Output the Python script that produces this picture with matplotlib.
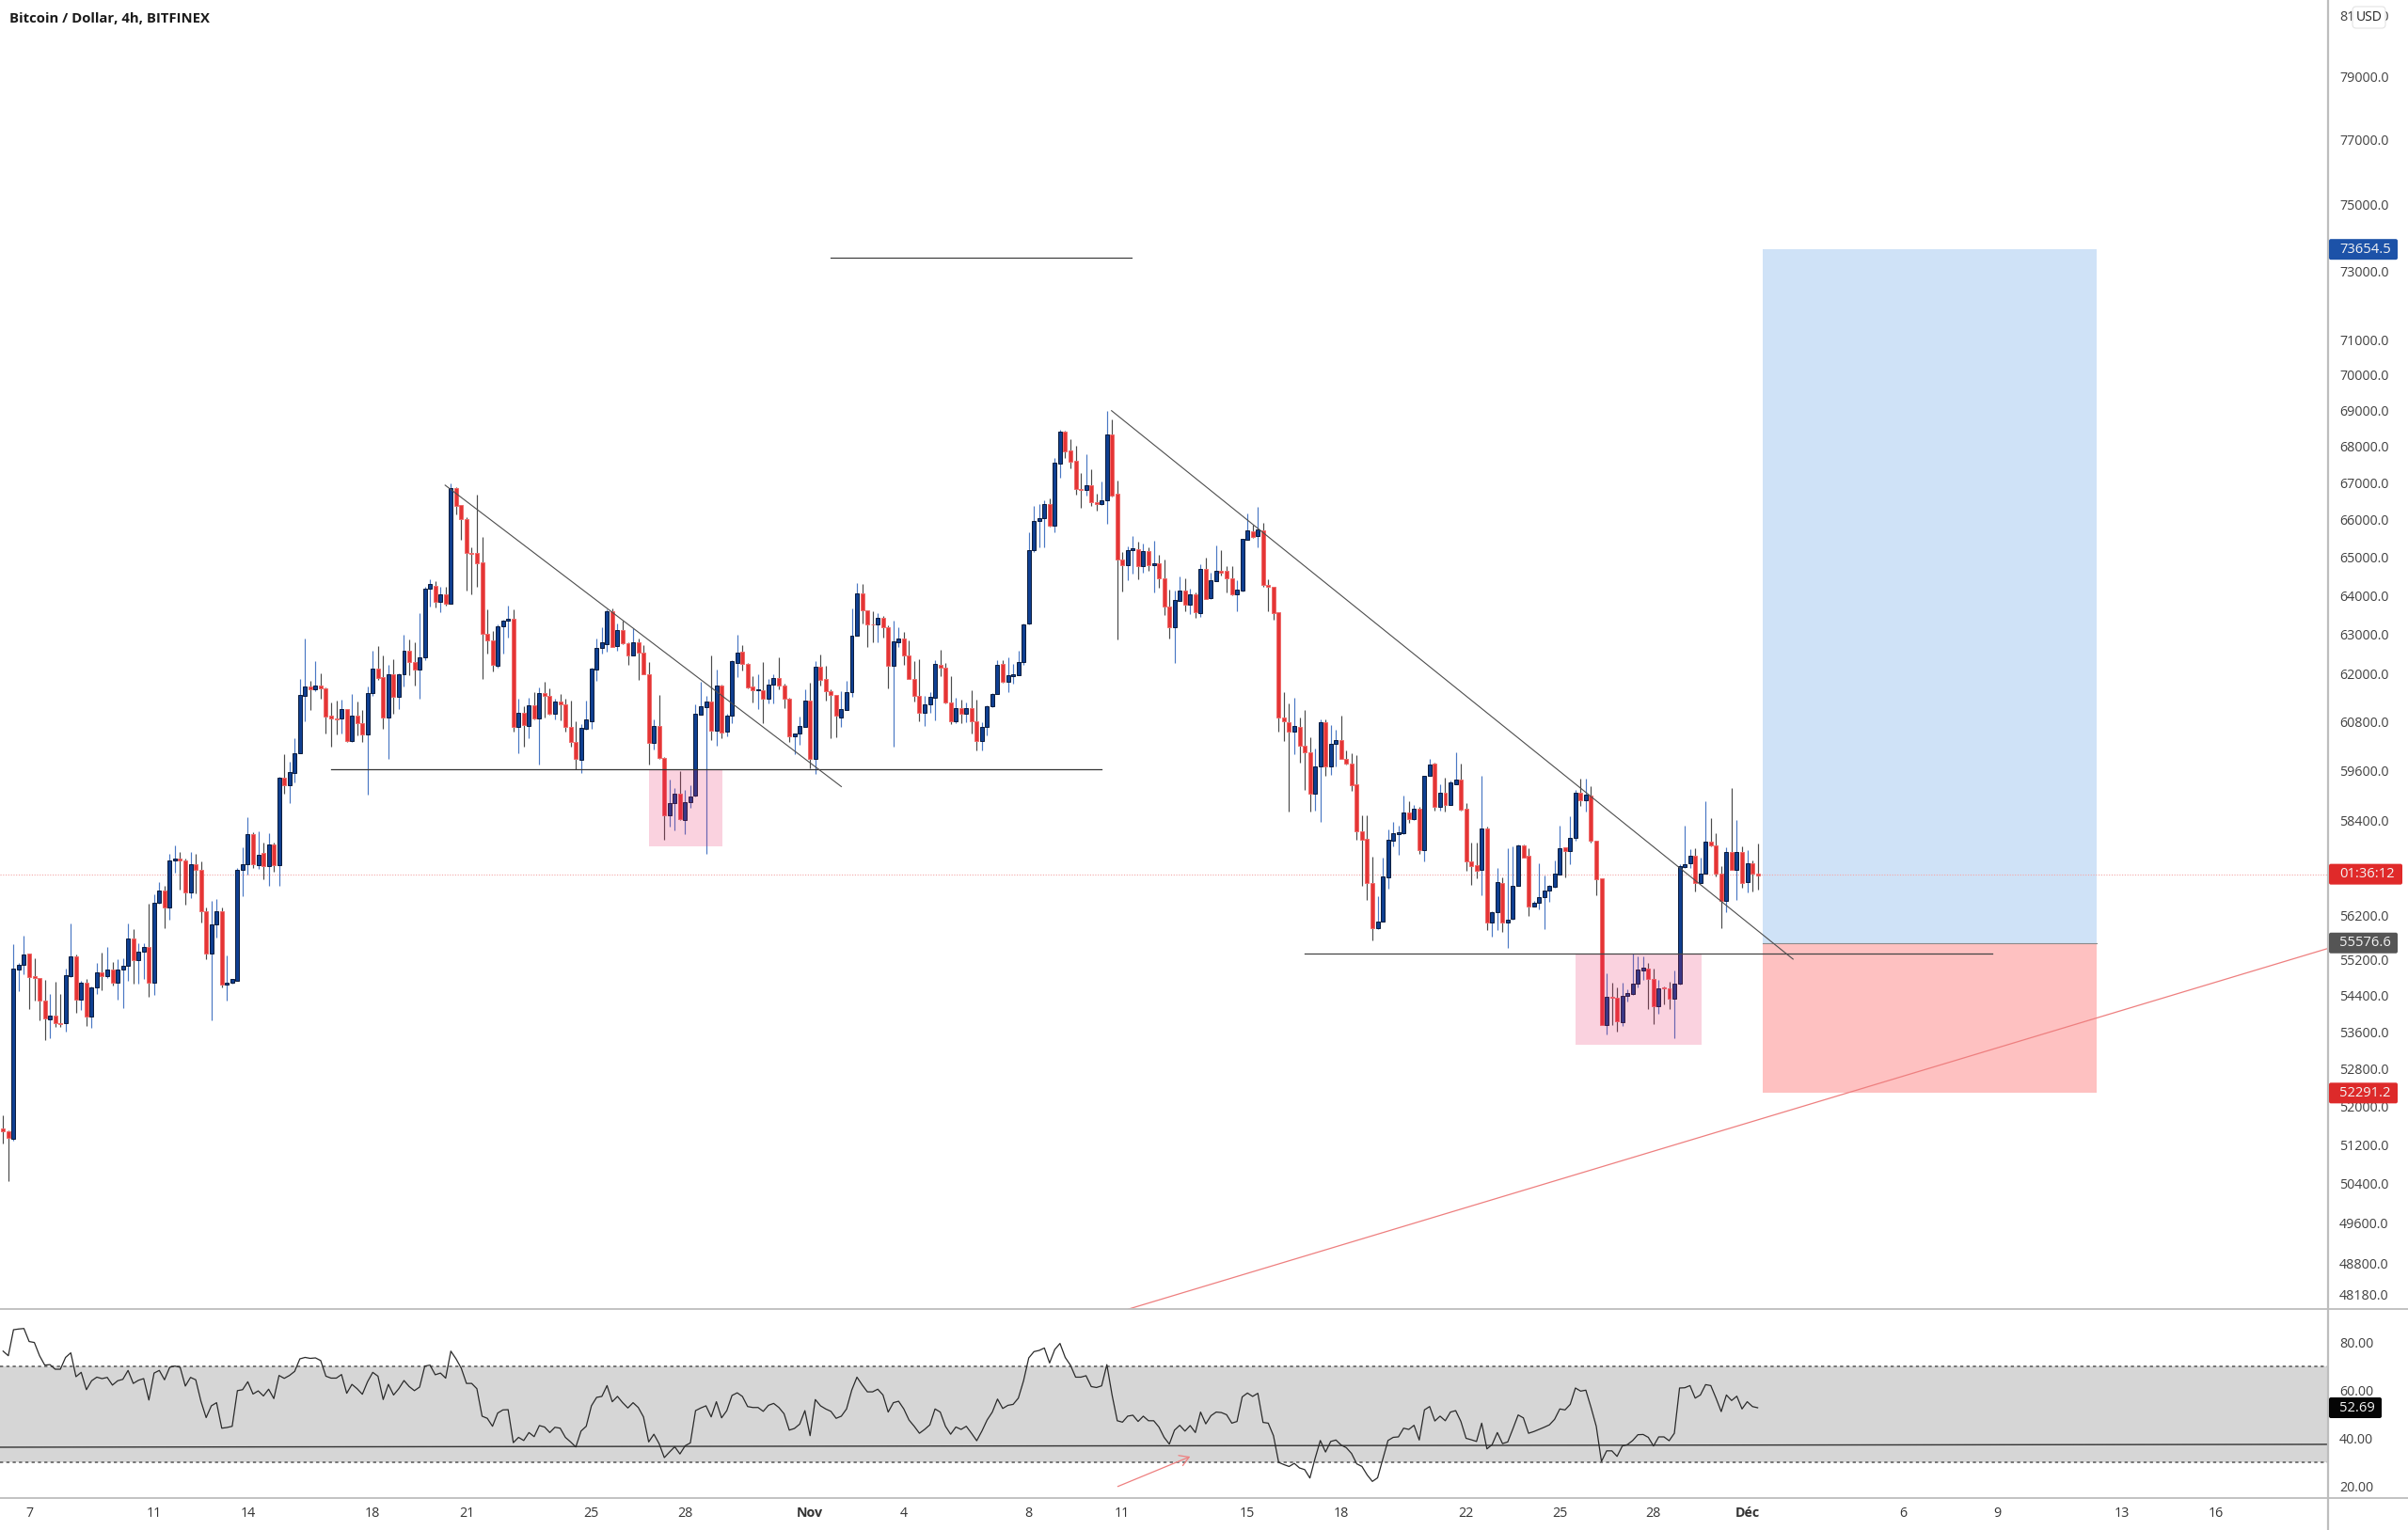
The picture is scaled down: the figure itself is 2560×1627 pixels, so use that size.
import numpy as np
import matplotlib
matplotlib.use("Agg")
import matplotlib.pyplot as plt
from matplotlib.patches import Rectangle, FancyBboxPatch
from matplotlib.lines import Line2D
from matplotlib.transforms import IdentityTransform
from matplotlib.ticker import NullLocator, NullFormatter

plt.rcParams['font.family'] = ['Open Sans', 'DejaVu Sans']

title = "Bitcoin / Dollar, 4h, BITFINEX"

opens = [
51540,51480,51320,54980,55080,55330,54830,54800,54300,53880,
53965,53800,53800,54830,55265,54320,54690,53945,54585,54910,
54830,54970,54690,54970,55060,55680,55185,55380,55495,54690,
56490,56775,56375,57480,57505,57470,56730,57375,57260,56295,
55345,56000,56305,54640,54685,54730,57260,57375,58080,57350,
57650,57330,57855,57350,59440,59245,59555,60035,61450,61675,
61610,61710,61635,60950,60885,60875,61110,60320,60950,60760,
60495,61505,62120,61915,60900,61990,61410,61990,62585,62300,
62110,62400,64170,64260,63840,64025,63790,66840,66390,66020,
65120,65110,64865,63000,62830,62195,63210,63340,63390,60680,
61010,60695,61215,60875,61520,61430,61000,61300,61225,60670,
60295,59875,60620,60810,62095,62640,62745,63590,62690,63105,
62770,62470,62785,62530,61990,60280,60690,59910,58525,58815,
59060,58430,58840,59010,60975,61170,61300,60570,61690,60555,
60945,62280,62555,62255,61670,61585,61585,61380,61725,61880,
61690,61380,60450,60500,60680,61325,59895,62170,61875,61570,
61465,60910,61100,61535,62970,64050,63605,63260,63250,63425,
63170,62190,62800,62895,62470,61870,61440,61030,61225,61400,
62210,62155,61285,60800,61145,60990,61145,60815,60315,60665,
61175,61480,62240,61795,61935,61965,62300,63270,65195,65965,
66030,66420,65830,67520,68410,67870,67600,66830,66810,66930,
66470,66410,66510,68320,66700,64940,64785,65180,65215,64775,
65165,64785,64840,64450,63720,63170,63865,64130,63765,64020,
63550,64700,63935,64380,64635,64635,64450,64040,64135,65470,
65695,65550,65725,64265,64215,63560,60910,60790,60560,60670,
60215,60060,59060,59715,60790,59715,60260,60340,59900,59780,
59265,58145,57980,56940,55915,56065,57070,57940,58095,58105,
58595,58435,58700,57720,59490,59780,58745,59075,58780,59285,
59390,58700,57459,57355,57250,58225,56035,56275,56955,56035,
56120,56880,57825,57590,56410,56495,56625,56770,56855,57150,
57780,57695,58005,59075,58890,59015,57940,57045,53750,54385,
54360,53815,54400,54445,54675,54965,55005,54765,54170,54580,
54555,54335,54665,57325,57405,57580,56940,57170,57910,57825,
57160,56540,57675,57255,57660,56975,57400,57170]

closes = [
51480,51340,55000,55080,55320,54820,54800,54300,53900,53965,
53790,53780,54850,55265,54320,54690,53945,54585,54910,54830,
54970,54690,54970,55070,55680,55185,55380,55495,54690,56490,
56775,56375,57470,57505,57470,56730,57375,57260,56305,55345,
56000,56305,54640,54695,54765,57260,57375,58080,57375,57600,
57330,57855,57350,59440,59255,59565,60020,61460,61675,61610,
61710,61635,60935,60875,60860,61110,60320,60950,60760,60495,
61505,62120,61890,60900,61990,61420,61990,62585,62300,62110,
62400,64180,64290,63840,64025,63790,66840,66375,66020,65110,
65095,64850,63000,62830,62210,63210,63340,63405,60680,61010,
60710,61215,60885,61520,61430,61000,61300,61225,60670,60295,
59900,60645,60850,62120,62660,62785,63590,62680,63105,62760,
62470,62785,62525,61990,60280,60690,59910,58540,58815,59060,
58440,58840,58985,60990,61185,61300,60570,61690,60540,60950,
62310,62540,62255,61660,61590,61600,61360,61715,61880,61690,
61360,60430,60500,60690,61325,59885,62170,61850,61570,61465,
60950,61120,61535,62960,64050,63605,63250,63240,63425,63170,
62190,62810,62895,62470,61870,61440,61030,61225,61410,62240,
62145,61270,60800,61145,60990,61145,60800,60315,60665,61185,
61490,62215,61795,61950,61975,62300,63250,65195,65965,66030,
66420,65830,67540,68410,67855,67580,66830,66810,66930,66465,
66410,66510,68320,66645,64940,64800,65180,65230,64775,65165,
64785,64840,64445,63710,63170,63870,64130,63765,64020,63565,
64690,63915,64400,64645,64605,64450,64030,64155,65490,65715,
65530,65735,64275,64215,63550,60910,60810,60560,60700,60215,
60050,59060,59715,60790,59715,60260,60340,59900,59780,59250,
58145,57965,56955,55915,56065,57090,57955,58105,58130,58595,
58445,58700,57720,59490,59750,58745,59075,58780,59310,59390,
58665,57459,57345,57235,58225,56035,56275,56965,56035,56110,
56890,57825,57545,56410,56495,56625,56770,56875,57160,57755,
57695,58005,59075,58890,59025,57940,57025,53750,54385,54360,
53830,54395,54450,54675,54970,55015,54765,54170,54570,54560,
54335,54665,57340,57390,57580,56955,57170,57910,57825,57160,
56540,57660,57255,57675,56955,57400,57160,57110]

highs = [
51830,51500,55550,55120,55750,55345,55230,54800,54740,54440,
54700,54440,55000,56015,55310,54720,54775,54610,55120,55370,
55485,55140,55210,55230,56015,55900,55575,55575,56465,56680,
56975,56880,57620,57825,57660,57505,57660,57625,57445,56385,
56525,56585,56385,55290,54775,57285,57780,58490,58130,58165,
57890,58105,57880,59455,60000,59815,60395,61865,62895,61825,
62320,62015,61660,61275,61315,61350,61125,61480,61290,61100,
61685,62570,62690,62470,62230,62365,62015,62975,62855,62790,
63550,64220,64420,64380,64220,64220,66980,66880,66400,66060,
65270,66675,65540,63645,63080,63250,63380,63735,63645,61380,
61190,61405,61545,61660,61785,61635,61380,61480,61380,61315,
60810,60745,61315,62145,62880,63185,63630,63655,63265,63345,
62785,63145,62880,62720,62285,60860,61455,59925,59400,59175,
59590,59150,59250,61230,61795,61440,62450,62095,61715,60990,
62335,62975,62720,62270,61930,61990,62295,61875,61975,62410,
61755,61395,60510,60935,61610,61770,62305,62490,62200,61615,
61475,61560,61820,63670,64325,64290,63605,63590,63550,63465,
63225,63345,63170,63065,62840,62305,62370,61440,61545,62345,
62600,62265,61930,61400,61340,61285,61575,61350,60780,61207,
61505,62330,62345,62400,62240,62570,63265,65650,66360,66420,
66530,66570,67680,68445,68430,68200,68010,67270,67785,67355,
66690,67040,68975,68740,67050,65130,65295,65560,65410,65350,
65270,65430,65065,64940,64160,64115,64485,64445,64180,64080,
64810,64985,64595,65310,65180,64770,64770,64400,65490,66170,
65875,66355,65925,64420,64215,63560,61545,61265,61385,60900,
61100,60410,60140,60855,60855,60720,60610,60945,60105,60030,
59975,58525,58525,57565,56640,57530,58200,58375,58290,59015,
58860,58770,58725,59490,59880,59805,59265,59445,59355,60050,
59780,58815,57890,57890,59470,58260,56300,57285,57070,57760,
57805,57850,57850,57760,56530,57415,57130,56900,57475,58290,
57780,58510,59150,59420,59420,59240,57940,57045,54890,54685,
54580,54685,54540,55330,55270,55270,55125,55000,54745,54600,
54705,54955,57375,58290,57735,57760,57545,58880,58465,58105,
57330,57780,59175,58420,57790,57720,57475,57875]

lows = [
51240,50445,51290,54490,54870,54100,54290,53855,53430,53465,
53710,53710,53620,54810,54020,54080,53735,53690,54440,54530,
54800,54630,54320,54120,54720,54660,54660,54775,54380,54410,
56480,55920,56095,57190,56800,56445,56590,56715,56040,55210,
53855,55690,54575,54300,54660,54720,56650,57150,57305,57270,
57030,56880,57210,56890,59045,58815,59320,60020,60810,61100,
61570,61380,60520,60185,60495,60520,60310,60310,60470,60295,
59035,61440,61850,60620,59900,61000,61125,61675,61955,61700,
61380,62340,63710,63680,63560,63735,63775,66130,65470,64130,
64040,64220,61865,62510,62050,62145,62510,62920,60560,60035,
60185,60395,60850,59750,60900,60975,60850,60835,60560,60185,
59650,59555,60600,60620,61825,62510,62550,62665,62570,62745,
62210,62455,61850,61975,59760,60130,59895,57960,58255,58170,
58430,58095,58710,58985,60975,57615,60355,60200,60395,60450,
60755,61910,62075,61640,61285,61105,60765,61245,61245,61610,
61130,60300,60010,60225,60665,59670,59520,61690,61335,60395,
60410,60680,61085,61425,62960,63280,62665,62800,62800,62905,
61625,60190,62665,62225,61870,61300,60815,60700,61015,60845,
61930,61260,60740,60755,60755,60780,60510,60100,60100,60470,
61170,61480,61775,61545,61755,61950,62230,63250,65130,65270,
65270,65815,65670,67130,67680,67380,66680,66330,66660,66370,
66250,66395,65900,66620,62855,64110,64404,64570,64430,64585,
64650,64080,64200,63490,62900,62265,63850,63590,63525,63415,
63445,63895,63915,64380,64520,64080,64010,63580,64105,65470,
65510,65260,64235,63600,63370,60560,60330,58630,60015,59790,
59130,58615,58640,58375,59490,59510,59715,59900,59760,59115,
57945,56870,56555,55645,55890,56055,56815,57790,57605,58085,
58350,58420,57615,57459,59470,58640,58640,58615,58770,59265,
58640,57225,56910,57050,56665,55875,55725,55875,55830,55455,
56100,56870,57530,56195,56400,56345,55890,56510,56835,57140,
57070,57390,57940,58755,58615,57890,56665,53750,53545,53765,
53620,53725,54270,54420,54580,54750,54105,53780,54010,54210,
54105,53470,54650,57285,57285,56750,56940,57170,57805,57090,
55915,56275,57245,56555,56835,56725,56745,56785]

rsi_values = [
76.2,74.3,85.1,85.4,85.6,80.2,79.8,74.3,70.4,70.6,68.7,68.7,73.6,75.5,65.6,67.4,60.2,63.9,65.4,64.8,
65.3,62.1,63.9,64.5,68.2,62.8,64.1,64.8,55.9,67.1,68.2,64.3,69.5,70.0,69.5,61.7,65.3,64.3,55.4,48.6,
53.5,54.8,44.2,44.5,45.0,59.8,60.2,63.5,58.4,59.7,57.6,60.4,56.5,66.1,64.9,66.1,67.8,73.0,73.6,73.2,
73.4,72.3,65.8,65.0,65.0,66.5,58.7,62.4,60.6,58.3,63.5,67.4,65.8,56.1,62.4,58.0,60.6,64.0,61.5,59.8,
61.3,70.0,70.4,66.4,67.1,65.0,76.2,73.0,69.1,62.8,62.8,60.6,49.2,48.3,45.0,50.5,51.8,51.9,38.2,40.4,
39.1,42.4,40.7,45.3,44.7,42.4,44.6,44.2,40.4,38.5,36.4,43.0,45.0,53.5,57.0,57.4,61.9,55.2,57.4,54.8,
52.6,54.8,52.8,48.9,38.5,41.7,37.8,32.0,34.3,36.5,33.5,36.9,38.1,51.5,52.6,53.5,48.9,55.2,48.5,51.5,
57.8,58.9,57.4,53.2,52.8,52.8,51.2,53.7,54.5,52.8,50.2,43.4,44.1,45.9,51.5,41.1,56.1,53.5,52.2,51.2,
48.3,49.2,52.2,60.0,65.4,62.2,59.3,59.3,60.4,58.0,50.9,54.8,55.4,52.2,47.6,45.0,42.1,43.7,45.6,52.2,
50.9,45.0,41.7,44.7,43.7,45.0,42.1,39.0,43.0,47.6,50.9,56.3,52.4,53.7,54.1,56.7,63.9,73.4,76.0,76.5,
77.5,71.3,76.9,79.4,73.6,70.4,65.4,65.4,66.0,61.5,61.1,61.8,70.6,58.0,47.3,46.7,49.2,49.6,47.0,49.2,
47.3,47.3,44.7,40.4,37.6,43.4,45.4,43.0,45.3,42.4,50.9,46.0,49.4,50.9,50.7,49.8,46.3,47.0,57.2,58.8,
57.4,58.7,46.6,46.3,41.1,30.0,29.1,28.3,29.6,27.7,27.0,23.5,31.7,39.1,34.3,38.7,39.3,37.2,36.1,33.7,
29.4,28.3,24.8,22.1,23.6,31.3,39.1,40.4,40.6,44.2,43.7,45.4,39.3,51.8,53.2,47.2,49.2,47.3,50.9,51.5,
47.0,40.0,39.4,38.7,46.3,35.6,37.4,42.4,37.8,38.5,44.0,49.7,48.5,42.1,42.8,43.7,44.6,45.6,47.9,52.2,
51.8,54.1,60.9,59.6,60.0,52.8,45.0,30.4,34.8,34.8,32.5,36.8,37.4,39.1,41.5,41.6,40.4,36.8,40.6,40.6,
39.0,42.1,60.9,61.0,61.9,56.7,58.0,62.3,61.9,56.7,51.1,58.0,55.7,57.5,52.2,55.2,53.2,52.69]

price_ticks = [81000,79000,77000,75000,73000,71000,70000,69000,68000,67000,66000,65000,64000,63000,62000,
               60800,59600,58400,57200,56200,55200,54400,53600,52800,52000,51200,50400,49600,48800,48180]
rsi_ticks = [80,60,40,20]
date_positions = [5,29,47,71,89,113,131,155,173,197,215,239,257,281,299,317,335,365,383,407,425]
date_labels = ["7","11","14","18","21","25","28","Nov","4","8","11","15","18","22","25","28","Déc","6","9","13","16"]

last_price = 57150
target_price, entry_price, stop_price = 73654.5, 55576.6, 52291.2

W, H = 2560, 1627
PX_BAR, X0 = 5.535, 3.3
AXIS_X, MAIN_B, RSI_B = 2475, 1392, 1592.5

fig = plt.figure(figsize=(W/100, H/100), dpi=100, facecolor='white')
ax = fig.add_axes([0, (H-MAIN_B)/H, AXIS_X/W, MAIN_B/H])
ax2 = fig.add_axes([0, (H-RSI_B)/H, AXIS_X/W, (RSI_B-MAIN_B)/H])
xlim = ((0-X0)/PX_BAR, (AXIS_X-X0)/PX_BAR)

# ---- price panel
ax.set_yscale('log')
ax.set_ylim(47901, 81503)
ax.set_xlim(*xlim)
o, h, l, c = map(np.array, (opens, highs, lows, closes))
x = np.arange(len(c))
up = c >= o
BLUE, BLUE_W, RED, RED_W = '#0f3f91', '#4a78c4', '#e53535', '#4a4a4a'

# long / short position tool
ax.add_patch(Rectangle((338, entry_price), 64.1, target_price-entry_price, fc='#cfe2f7', ec='none', zorder=1))
ax.add_patch(Rectangle((338, stop_price), 64.1, entry_price-stop_price, fc='#fec1c1', ec='none', zorder=1))
ax.plot([338, 402.1], [entry_price, entry_price], color='#8a8a8a', lw=0.8, zorder=1.5)

ax.axhline(last_price, color='#f5a6a6', lw=0.8, ls=(0, (1, 1.5)), zorder=1.5)
ax.vlines(x[up], l[up], h[up], color=BLUE_W, lw=0.85, zorder=2)
ax.vlines(x[~up], l[~up], h[~up], color=RED_W, lw=0.85, zorder=2)
ax.bar(x[up], np.abs(c-o)[up], bottom=np.minimum(o, c)[up], width=0.72, color=BLUE, edgecolor='#0a1a3a', lw=0.7, zorder=3)
ax.bar(x[~up], np.abs(c-o)[~up], bottom=np.minimum(o, c)[~up], width=0.72, color=RED, edgecolor='#ee6a6a', lw=0.7, zorder=3)

# pink zones
for x0, x1, y0, y1 in [(124, 138.2, 57790, 59640), (302, 326.2, 53325, 55340)]:
    ax.add_patch(Rectangle((x0, y0), x1-x0, y1-y0, fc=(0.91, 0.12, 0.39), alpha=0.2, ec='none', zorder=4))

# drawn lines
LINE = '#4d4d4d'
ax.plot([158.9, 216.7], [73400, 73400], color='#333333', lw=0.8, zorder=5)
ax.plot([63, 211], [59640, 59640], color='#333333', lw=0.9, zorder=5)
ax.plot([250, 382], [55340, 55340], color='#444444', lw=0.9, zorder=5)
ax.plot([84.9, 161], [66930, 59220], color=LINE, lw=0.8, zorder=5)
ax.plot([212.9, 343.8], [68985, 55213], color=LINE, lw=0.8, zorder=5)
ax.plot([216.2, 447], [47901, 55470], color='#ee7f7f', lw=0.9, zorder=5)

ax.set_yticks(price_ticks)
ax.set_yticklabels([f"{v:.1f}" for v in price_ticks])
ax.yaxis.set_minor_locator(NullLocator())
ax.yaxis.set_minor_formatter(NullFormatter())
ax.yaxis.tick_right()
ax.tick_params(axis='y', length=0, pad=8.6, labelsize=10.3, labelcolor='#404040')
ax.set_xticks([])

# ---- RSI panel
ax2.set_xlim(*xlim)
ax2.set_ylim(15.4, 93.7)
ax2.axhspan(30, 70, color='#d6d6d6', lw=0, zorder=1)
for lv in (30, 70):
    ax2.axhline(lv, color='#555555', lw=1.1, ls=(0, (2.2, 2.2)), zorder=2)
ax2.plot([xlim[0], xlim[1]], [36.3, 37.5], color='#333333', lw=1.0, zorder=2)
ax2.plot(np.arange(len(rsi_values)), rsi_values, color='#2a2a2a', lw=0.9, zorder=3)
ax2.annotate('', xy=(228, 32.4), xytext=(214.1, 20.0),
             arrowprops=dict(arrowstyle='->,head_length=0.5,head_width=0.3', color='#ee7f7f', lw=0.9,
                             mutation_scale=14, shrinkA=0, shrinkB=0), zorder=4)
ax2.set_yticks(rsi_ticks)
ax2.set_yticklabels([f"{v:.2f}" for v in rsi_ticks])
ax2.yaxis.tick_right()
ax2.tick_params(axis='y', length=0, pad=8.6, labelsize=10.3, labelcolor='#404040')
ax2.set_xticks(date_positions)
ax2.set_xticklabels(date_labels)
ax2.tick_params(axis='x', length=0, pad=7, labelsize=10.3, labelcolor='#333333')
for lab, txt in zip(ax2.get_xticklabels(), date_labels):
    if txt in ("Nov", "Déc"):
        lab.set_fontweight('bold')

for a in (ax, ax2):
    for s in a.spines.values():
        s.set_visible(False)

# ---- separators (figure pixels, origin bottom-left)
IDT = IdentityTransform()
SEP = '#bdbdbd'
for y in (MAIN_B, RSI_B):
    fig.add_artist(Line2D([0, W], [H-y, H-y], transform=IDT, color=SEP, lw=1.3, zorder=6))
fig.add_artist(Line2D([AXIS_X, AXIS_X], [0, H], transform=IDT, color=SEP, lw=1.6, zorder=6))

def tag(axis, value, text, fc, width, height=22):
    y = axis.transData.transform((0, value))[1]
    fig.add_artist(FancyBboxPatch((AXIS_X+1, y-height/2), width, height, boxstyle="round,pad=0,rounding_size=2",
                                  transform=IDT, fc=fc, ec='none', zorder=8))
    fig.text((AXIS_X+12)/W, y/H, text, color='#f4f4f4', fontsize=10.6, ha='left', va='center', zorder=9)

tag(ax, target_price, "73654.5", '#1c52a8', 73)
tag(ax, last_price, "01:36:12", '#e02a2a', 78)
tag(ax, entry_price, "55576.6", '#555555', 73)
tag(ax, stop_price, "52291.2", '#dd2a2a', 73)
tag(ax2, rsi_values[-1], "52.69", '#050505', 56)

fig.add_artist(FancyBboxPatch((2501, H-30), 35, 23, boxstyle="round,pad=0,rounding_size=4", transform=IDT,
                              fc='white', ec='#e4e4e4', lw=0.8, zorder=8))
fig.text(2518.5/W, (H-18.5)/H, "USD", color='#222222', fontsize=10, ha='center', va='center', zorder=9)

fig.text(10/W, (H-20)/H, title, color='#1a1a1a', fontsize=10.7, fontweight='bold', ha='left', va='center', zorder=9)

assert len(opens) == len(closes) == len(highs) == len(lows) == len(rsi_values) == 338
fig.savefig('out.png', dpi=100, facecolor='white')
